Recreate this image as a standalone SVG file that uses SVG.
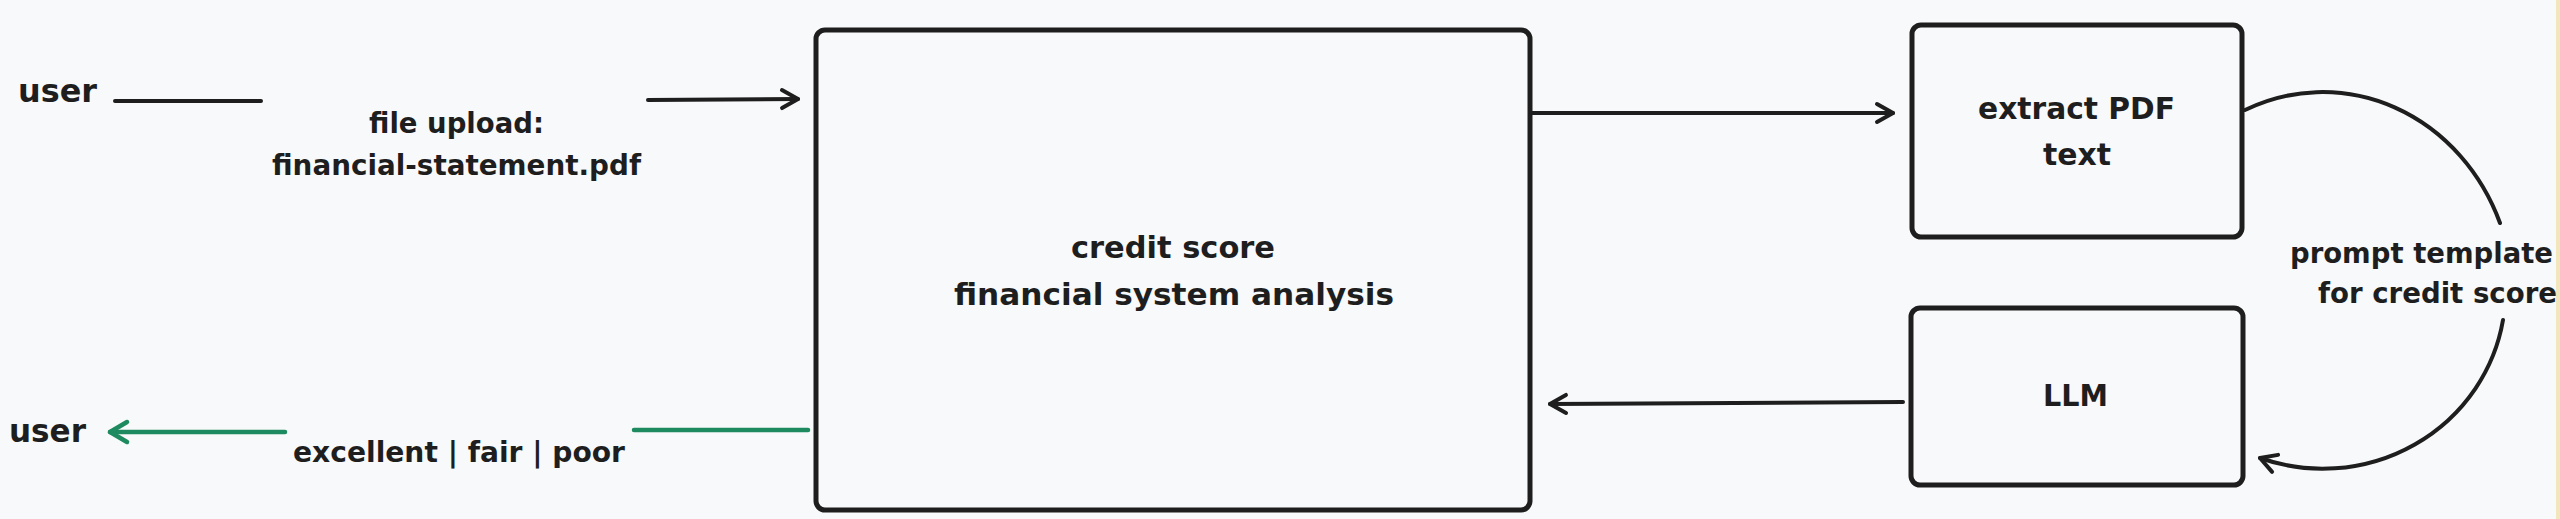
<svg xmlns="http://www.w3.org/2000/svg" width="2560" height="519" viewBox="0 0 2560 519">
<style>
.bg{fill:#f8f9fa}
.box{fill:none;stroke:#1e1e1e;stroke-width:5}
.ln{fill:none;stroke:#1e1e1e;stroke-width:4;stroke-linecap:round;stroke-linejoin:round}
.gr{fill:none;stroke:#1d8a5f;stroke-width:4.5;stroke-linecap:round;stroke-linejoin:round}
.t{font-family:"DejaVu Sans","Liberation Sans",sans-serif;font-weight:bold;fill:#1e1e1e}
.s28{font-size:28px}
.s31{font-size:30px}
.s32{font-size:32px}
</style>
<defs>
<marker id="ah" viewBox="-22 -14 28 28" refX="0" refY="0" markerWidth="28" markerHeight="28" markerUnits="userSpaceOnUse" orient="auto" overflow="visible">
<path d="M-16,-9 L0,0 L-16,9" fill="none" stroke="#1e1e1e" stroke-width="4" stroke-linecap="round" stroke-linejoin="round"/>
</marker>
<marker id="ahg" viewBox="-22 -14 28 28" refX="0" refY="0" markerWidth="28" markerHeight="28" markerUnits="userSpaceOnUse" orient="auto" overflow="visible">
<path d="M-17,-10 L0,0 L-17,10" fill="none" stroke="#1d8a5f" stroke-width="4.5" stroke-linecap="round" stroke-linejoin="round"/>
</marker>
</defs>
<rect class="bg" x="0" y="0" width="2560" height="519"/>
<rect x="2556" y="0" width="4" height="519" fill="#f2e6bd"/>

<g id="user-in">
<text class="t s32" x="18" y="102" textLength="79" lengthAdjust="spacingAndGlyphs">user</text>
</g>
<g id="user-out">
<text class="t s32" x="9" y="442" textLength="77" lengthAdjust="spacingAndGlyphs">user</text>
</g>

<g id="main">
<rect class="box" x="816" y="30" width="714" height="480" rx="9"/>
<text class="t s31" x="1071" y="258" textLength="204" lengthAdjust="spacingAndGlyphs">credit score</text>
<text class="t s31" x="954" y="305" textLength="440" lengthAdjust="spacingAndGlyphs">financial system analysis</text>
</g>

<g id="extract">
<rect class="box" x="1912" y="25" width="330" height="212" rx="9"/>
<text class="t s31" x="1978" y="119" textLength="197" lengthAdjust="spacingAndGlyphs">extract PDF</text>
<text class="t s31" x="2043" y="165" textLength="68" lengthAdjust="spacingAndGlyphs">text</text>
</g>

<g id="llm">
<rect class="box" x="1911" y="308" width="332" height="177" rx="9"/>
<text class="t s31" x="2043" y="406" textLength="65" lengthAdjust="spacingAndGlyphs">LLM</text>
</g>

<g id="connectors">
<path class="ln" d="M115,101 L261,101"/>
<path class="ln" d="M648,100 L798,99" marker-end="url(#ah)"/>
<text class="t s28" x="369" y="133" textLength="175" lengthAdjust="spacingAndGlyphs">file upload:</text>
<text class="t s28" x="272" y="175" textLength="369" lengthAdjust="spacingAndGlyphs">financial-statement.pdf</text>

<path class="ln" d="M1531,113 L1893,113" marker-end="url(#ah)"/>
<path class="ln" d="M1903,402 L1550,404" marker-end="url(#ah)"/>

<path class="gr" d="M634,430 L808,430"/>
<path class="gr" d="M285,432 L110,432" marker-end="url(#ahg)"/>
<text class="t s28" x="293" y="462" textLength="332" lengthAdjust="spacingAndGlyphs">excellent | fair | poor</text>

<path class="ln" d="M2245,110 A191,208 0 0 1 2500,223"/>
<path class="ln" d="M2503,320 A183,178 0 0 1 2260,458" marker-end="url(#ah)"/>
<text class="t s28" x="2290" y="263" textLength="263" lengthAdjust="spacingAndGlyphs">prompt template</text>
<text class="t s28" x="2318" y="303" textLength="239" lengthAdjust="spacingAndGlyphs">for credit score</text>
</g>
</svg>
